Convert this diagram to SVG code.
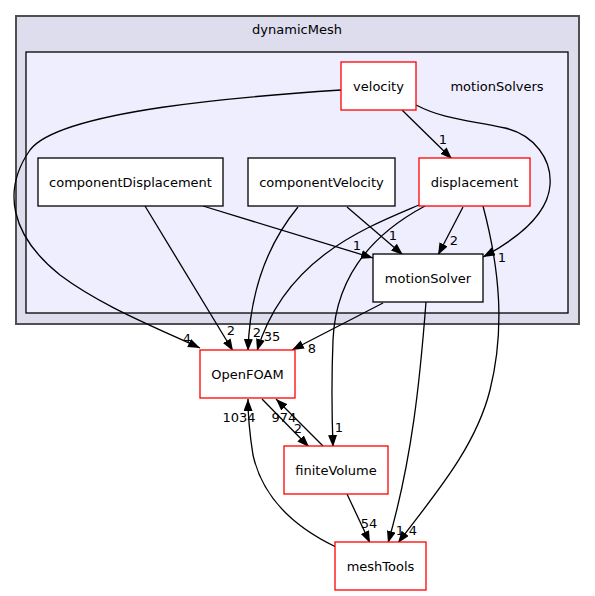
<svg xmlns="http://www.w3.org/2000/svg" width="595" height="596" viewBox="0 0 595 596">
<style>
text{font-family:"DejaVu Sans","Liberation Sans",sans-serif;font-size:13px;fill:#000}
.n{text-anchor:middle}
.l{text-anchor:middle}
.box{fill:#fff;stroke:#000;stroke-width:1.3}
.red{fill:#fff;stroke:#ff0000;stroke-width:1.3}
.e{fill:none;stroke:#000;stroke-width:1.3;marker-end:url(#a)}
</style>
<defs>
<marker id="a" markerUnits="userSpaceOnUse" markerWidth="13" markerHeight="10" refX="12" refY="4.5" orient="auto">
<path d="M0,0 L12,4.5 L0,9 z" fill="#000"/>
</marker>
</defs>
<rect width="595" height="596" fill="#fff"/>
<g id="cluster_dynamicMesh">
<rect x="16" y="16" width="563" height="308" fill="#ddddee" stroke="#505050" stroke-width="2"/>
<text class="n" x="297" y="34">dynamicMesh</text>
</g>
<g id="cluster_motionSolvers">
<rect x="26" y="52" width="542" height="261" fill="#eeeeff" stroke="#000" stroke-width="1.3"/>
<text class="n" x="497" y="91">motionSolvers</text>
</g>
<g id="edges">
<path class="e" d="M402,110 L452,159"/>
<text class="l" x="443" y="144">1</text>
<path class="e" d="M416,105 C445,120 470,120 505,128 C535,135 552,160 550,185 C548,215 515,240 483,257"/>
<text class="l" x="502" y="262">1</text>
<path class="e" d="M341,90 C250,96 60,110 30,150 C2,190 10,235 60,275 C100,305 150,325 200,348"/>
<text class="l" x="187" y="343">4</text>
<path class="e" d="M145,206 L233,351"/>
<text class="l" x="231" y="335">2</text>
<path class="e" d="M203,206 L373,258"/>
<text class="l" x="357" y="250">1</text>
<path class="e" d="M298,207 C275,235 250,280 248,351"/>
<text class="l" x="257" y="337">2</text>
<path class="e" d="M347,207 L403,255"/>
<text class="l" x="393" y="240">1</text>
<path class="e" d="M463,207 L438,255"/>
<text class="l" x="454" y="245">2</text>
<path class="e" d="M419,205 C365,228 285,258 257,351"/>
<text class="l" x="272" y="341">35</text>
<path class="e" d="M425,206 C380,230 336,270 333,340 C331,390 332,420 333,447"/>
<text class="l" x="339" y="432">1</text>
<path class="e" d="M483,206 C500,270 505,330 490,390 C475,450 430,500 398,543"/>
<text class="l" x="413" y="535">4</text>
<path class="e" d="M383,303 L292,350"/>
<text class="l" x="312" y="353">8</text>
<path class="e" d="M426,302 C420,380 412,460 388,543"/>
<text class="l" x="400" y="535">1</text>
<path class="e" d="M262,399 L309,447"/>
<text class="l" x="298" y="433">2</text>
<path class="e" d="M323,446 L276,399"/>
<text class="l" x="284" y="422">974</text>
<path class="e" d="M336,547 C290,525 262,495 253,455 C249,430 248,415 248,399"/>
<text class="l" x="239" y="422">1034</text>
<path class="e" d="M347,494 L370,543"/>
<text class="l" x="369" y="528">54</text>
</g>
<g id="node_velocity">
<rect class="red" x="341" y="62" width="75" height="48"/>
<text class="n" x="378.5" y="91">velocity</text>
</g>
<g id="node_componentDisplacement">
<rect class="box" x="38" y="158" width="185" height="48"/>
<text class="n" x="130.5" y="187">componentDisplacement</text>
</g>
<g id="node_componentVelocity">
<rect class="box" x="248" y="158" width="147" height="48"/>
<text class="n" x="321.5" y="187">componentVelocity</text>
</g>
<g id="node_displacement">
<rect class="red" x="419" y="158" width="111" height="48"/>
<text class="n" x="474.5" y="187">displacement</text>
</g>
<g id="node_motionSolver">
<rect class="box" x="373" y="254" width="110" height="48"/>
<text class="n" x="428" y="283">motionSolver</text>
</g>
<g id="node_OpenFOAM">
<rect class="red" x="200" y="350" width="95" height="48"/>
<text class="n" x="247.5" y="379">OpenFOAM</text>
</g>
<g id="node_finiteVolume">
<rect class="red" x="284" y="446" width="104" height="48"/>
<text class="n" x="336" y="475">finiteVolume</text>
</g>
<g id="node_meshTools">
<rect class="red" x="335" y="542" width="91" height="48"/>
<text class="n" x="380.5" y="571">meshTools</text>
</g>
</svg>
